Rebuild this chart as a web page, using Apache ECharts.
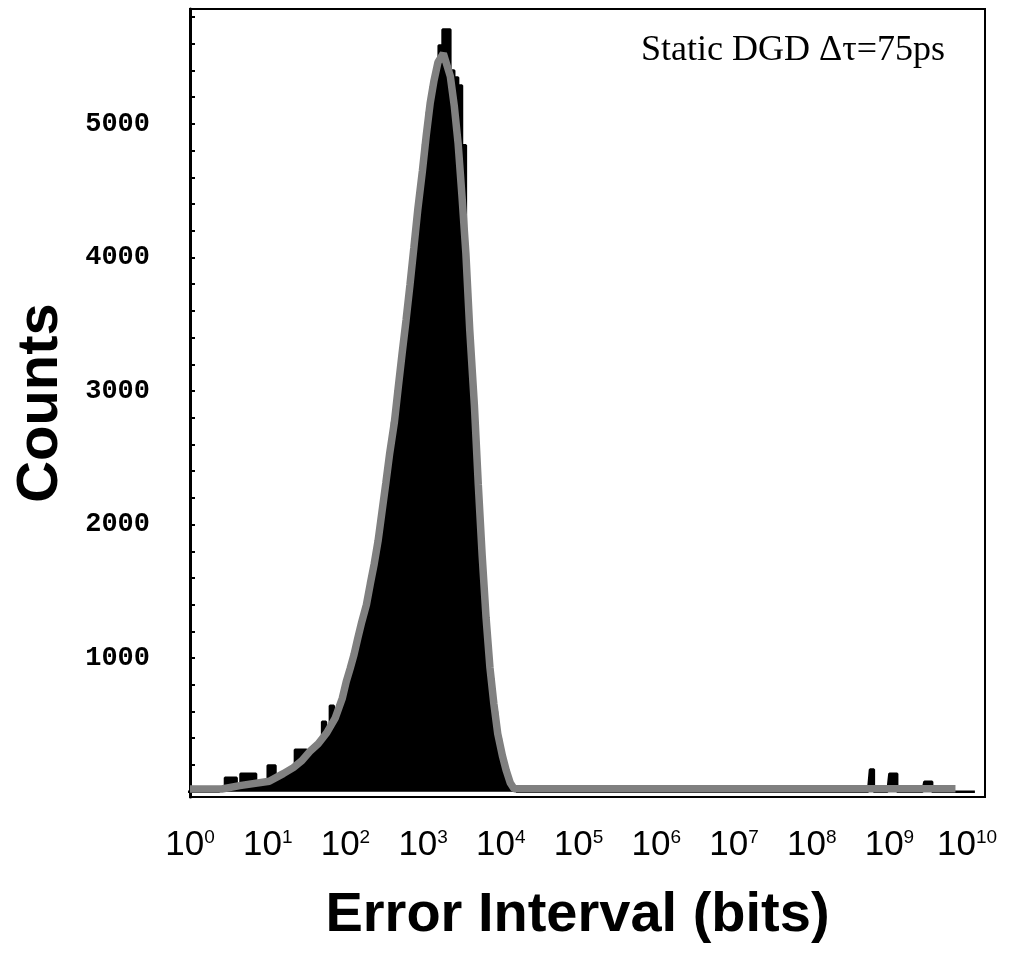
<!DOCTYPE html>
<html>
<head>
<meta charset="utf-8">
<script src="https://cdn.jsdelivr.net/npm/echarts@6/dist/echarts.min.js"></script>
<style>
  html, body { margin: 0; padding: 0; background: #fff; }
  #main { width: 1020px; height: 964px; }
</style>
</head>
<body>
<div id="main"></div>
<script>
// histogram bins: log10 of the error interval (bin centres) and counts
var histLogX = [-0.26, 0.375,
  0.425, 0.475, 0.525, 0.575, 0.625, 0.675, 0.725, 0.775, 0.825, 0.875, 0.925, 0.975,
  1.025, 1.075, 1.125, 1.175, 1.225, 1.275, 1.325, 1.375, 1.425, 1.475,
  1.525, 1.575, 1.625, 1.675, 1.725, 1.775, 1.825, 1.875, 1.925, 1.975,
  2.025, 2.075, 2.125, 2.175, 2.225, 2.275, 2.325, 2.375, 2.425, 2.475,
  2.525, 2.575, 2.625, 2.675, 2.725, 2.775, 2.825, 2.875, 2.925, 2.975,
  3.025, 3.075, 3.125, 3.175, 3.225, 3.275, 3.325, 3.375, 3.425, 3.475,
  3.525, 3.575, 3.625, 3.675, 3.725, 3.775, 3.825, 3.875, 3.925, 3.975,
  4.025, 4.075, 4.125, 4.175, 4.225,
  8.725, 8.775, 8.825, 8.975, 9.025, 9.075, 9.125, 9.425, 9.475, 9.525, 9.575, 10.1];
var histCounts = [0, 0,
  25, 105, 105, 105, 50, 135, 135, 135, 135, 65, 70, 74,
  195, 195, 110, 128, 144, 162, 180, 314, 314, 314,
  287, 316, 347, 380, 524, 452, 643, 565, 650, 735,
  850, 950, 1060, 1185, 1300, 1415, 1560, 1730, 1900, 2110,
  2325, 2540, 2765, 3005, 3260, 3505, 3760, 4040, 4310, 4580,
  4850, 5090, 5280, 5420, 5587, 5707, 5707, 5400, 5348, 5288,
  4839, 3745, 3170, 2660, 2110, 1610, 1190, 850, 600, 400,
  250, 145, 60, 15, 0,
  0, 165, 0, 0, 135, 135, 0, 0, 75, 75, 0, 0];

// fitted curve (grey)
var fitLogX = [0, 0.41, 0.64, 1.02, 1.20, 1.33, 1.44, 1.54, 1.65, 1.76,
  1.87, 1.96, 2.01, 2.06, 2.11, 2.16, 2.21, 2.27, 2.32, 2.37,
  2.42, 2.47, 2.52, 2.57, 2.63, 2.68, 2.73, 2.78, 2.83, 2.88,
  2.93, 2.99, 3.04, 3.09, 3.14, 3.19, 3.26, 3.35, 3.40, 3.45,
  3.50, 3.55, 3.60, 3.66, 3.71, 3.76, 3.81, 3.86, 3.91, 3.96,
  4.02, 4.07, 4.12, 4.17, 9.85];
var fitCounts = [20, 20, 45, 78, 135, 180, 232, 300, 359, 441,
  553, 700, 823, 920, 1025, 1152, 1271, 1399, 1556, 1705,
  1877, 2094, 2311, 2535, 2767, 3029, 3284, 3530, 3792, 4069,
  4353, 4645, 4914, 5153, 5325, 5460, 5527, 5355, 5138, 4854,
  4458, 4031, 3455, 2887, 2296, 1765, 1301, 927, 658, 434,
  269, 157, 67, 22, 22];

var xLabelValues = [1, 10, 100, 1e3, 1e4, 1e5, 1e6, 1e7, 1e8, 1e9, 1e10];
var yTickValues = [0, 200, 400, 600, 800, 1000, 1200, 1400, 1600, 1800,
  2000, 2200, 2400, 2600, 2800, 3000, 3200, 3400, 3600, 3800,
  4000, 4200, 4400, 4600, 4800, 5000, 5200, 5400, 5600, 5800];
var yLabelValues = [1000, 2000, 3000, 4000, 5000];

function toPairs(logs, vals) {
  return logs.map(function (e, i) { return [Math.pow(10, e), vals[i]]; });
}

var myChart = echarts.init(document.getElementById('main'));
myChart.setOption({
  animation: false,
  backgroundColor: '#fff',
  title: {
    text: 'Static DGD \u0394\u03c4=75ps',
    right: 75,
    top: 33,
    padding: 0,
    textStyle: { fontFamily: 'Liberation Serif', fontWeight: 'normal', fontSize: 36, color: '#000' }
  },
  grid: {
    left: 190, right: 35, top: 9, bottom: 167,
    outerBoundsMode: 'none',
    containLabel: false,
    show: true, borderColor: '#000', borderWidth: 2, backgroundColor: 'transparent'
  },
  xAxis: {
    type: 'log',
    logBase: 10,
    min: 1,
    max: Math.pow(10, 10.23),
    name: 'Error Interval (bits)',
    nameLocation: 'middle',
    nameGap: 91,
    nameTextStyle: {
      fontFamily: 'Liberation Sans',
      fontWeight: 'bold', fontSize: 56, color: '#000', padding: [0, 20, 0, 0]
    },
    axisLine: { onZero: false, lineStyle: { color: '#000', width: 2 } },
    axisTick: { show: false },
    splitLine: { show: false },
    axisLabel: {
      customValues: xLabelValues,
      margin: 31,
      formatter: function (v) {
        return '{b|10}{s|' + Math.round(Math.log10(v)) + '}';
      },
      rich: {
        b: { fontFamily: 'Liberation Sans', fontSize: 35, lineHeight: 35, color: '#000' },
        s: { fontFamily: 'Liberation Sans', fontSize: 19, lineHeight: 19, color: '#000', verticalAlign: 'top' }
      }
    }
  },
  yAxis: {
    type: 'value',
    min: -40,
    max: 5860,
    name: 'Counts',
    nameLocation: 'middle',
    nameGap: 120,
    nameTextStyle: {
      fontFamily: 'Liberation Sans',
      fontWeight: 'bold', fontSize: 58, color: '#000'
    },
    axisLine: { show: true, lineStyle: { color: '#000', width: 3 } },
    axisTick: { show: true, inside: true, length: 5, customValues: yTickValues, lineStyle: { color: '#000', width: 2 } },
    splitLine: { show: false },
    axisLabel: {
      customValues: yLabelValues,
      margin: 40,
      formatter: function (v) { return String(v); },
      fontFamily: 'Liberation Mono',
      fontWeight: 'bold',
      fontSize: 27,
      color: '#000'
    }
  },
  series: [
    {
      name: 'histogram',
      type: 'line',
      step: 'middle',
      symbol: 'none',
      clip: false,
      data: toPairs(histLogX, histCounts),
      lineStyle: { color: '#000', width: 2.5 },
      areaStyle: { color: '#000', opacity: 1 },
      z: 2
    },
    {
      name: 'fit',
      type: 'line',
      symbol: 'none',
      data: toPairs(fitLogX, fitCounts),
      lineStyle: { color: '#808080', width: 7.5 },
      z: 3
    }
  ]
});
</script>
</body>
</html>
